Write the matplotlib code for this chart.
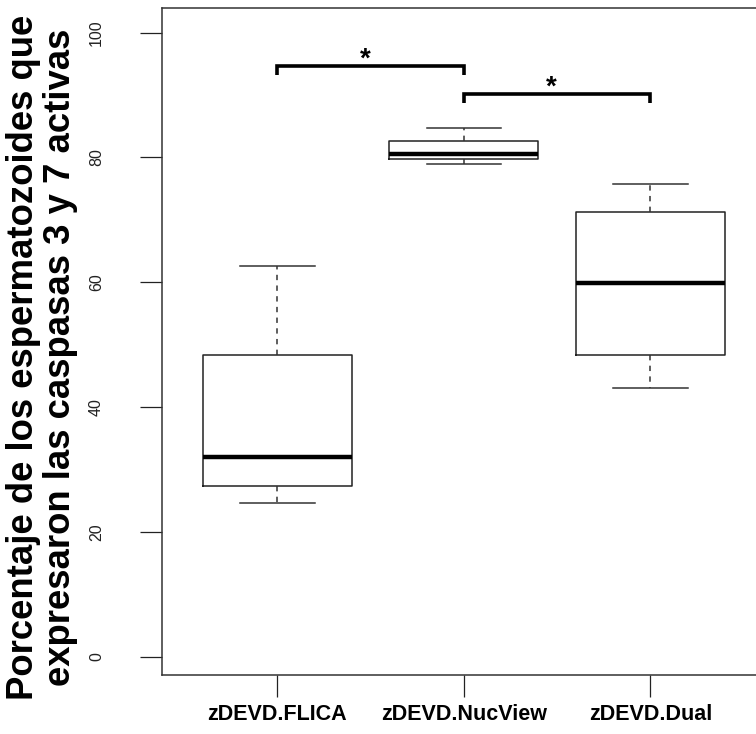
import matplotlib
matplotlib.use('Agg')
import matplotlib.pyplot as plt

# box summaries (whisker low, Q1, median, Q3, whisker high)
groups = ['zDEVD.FLICA', 'zDEVD.NucView', 'zDEVD.Dual']
whisker_low = [24.6, 78.9, 43.05]
q1 = [27.4, 79.75, 48.3]
median = [32.0, 80.55, 59.9]
q3 = [48.3, 82.7, 71.2]
whisker_high = [62.6, 84.7, 75.7]

y_ticks = [0, 20, 40, 60, 80, 100]

# significance brackets: (left group, right group, bracket height)
sig_left = [1, 2]
sig_right = [2, 3]
sig_height = [94.7, 90.2]
sig_label = ['*', '*']

ylabel = 'Porcentaje de los espermatozoides que\nexpresaron las caspasas 3 y 7 activas'

plt.rcParams['font.family'] = ['Liberation Sans', 'DejaVu Sans']

fig = plt.figure(figsize=(7.56, 7.34), dpi=100)
ax = fig.add_axes([161.7 / 756, 59 / 734, (766 - 161.7) / 756, 667.3 / 734])

stats = []
for i, g in enumerate(groups):
    stats.append({'label': g, 'whislo': whisker_low[i], 'q1': q1[i], 'med': median[i],
                  'q3': q3[i], 'whishi': whisker_high[i], 'fliers': []})

positions = list(range(1, len(groups) + 1))
ax.bxp(stats, positions=positions, widths=0.8, capwidths=0.4, showfliers=False,
       boxprops=dict(color='#222222', linewidth=1.1),
       medianprops=dict(color='black', linewidth=3.2, solid_capstyle='butt'),
       whiskerprops=dict(color='#333333', linewidth=1.1, linestyle=(0, (3.5, 3.5))),
       capprops=dict(color='#333333', linewidth=1.1))

# brackets with stars
for a, b, h, s in zip(sig_left, sig_right, sig_height, sig_label):
    ax.plot([a, a, b, b], [h - 1.5, h, h, h - 1.5], color='black', linewidth=2.6,
            solid_capstyle='butt', solid_joinstyle='miter', clip_on=False)
    ax.text((a + b) / 2 - 0.03, h + 1.5, s, ha='center', va='center_baseline',
            fontsize=20, fontweight='bold')

ax.set_xlim(0.38, 3.62)
ax.set_ylim(-2.93, 104.0)

ax.set_xticks(positions)
ax.set_xticklabels(groups, fontsize=15.5, fontweight='bold')
ax.set_yticks(y_ticks)
ax.set_yticklabels([str(t) for t in y_ticks], rotation=90, va='center', fontsize=11.5)

ax.tick_params(axis='y', length=15.6, width=0.9, pad=26, colors='#222222')
ax.tick_params(axis='x', length=15.6, width=0.9, pad=5, colors='#222222')
for lab in ax.get_xticklabels():
    lab.set_color('black')

for sp in ax.spines.values():
    sp.set_color('#333333')
    sp.set_linewidth(1.1)

fig.text(42 / 756, (734 - 357) / 734, ylabel, rotation=90, ha='center', va='center',
         fontsize=26.3, fontweight='bold', linespacing=1.05, transform=fig.transFigure)

fig.savefig('out.png', dpi=100)
